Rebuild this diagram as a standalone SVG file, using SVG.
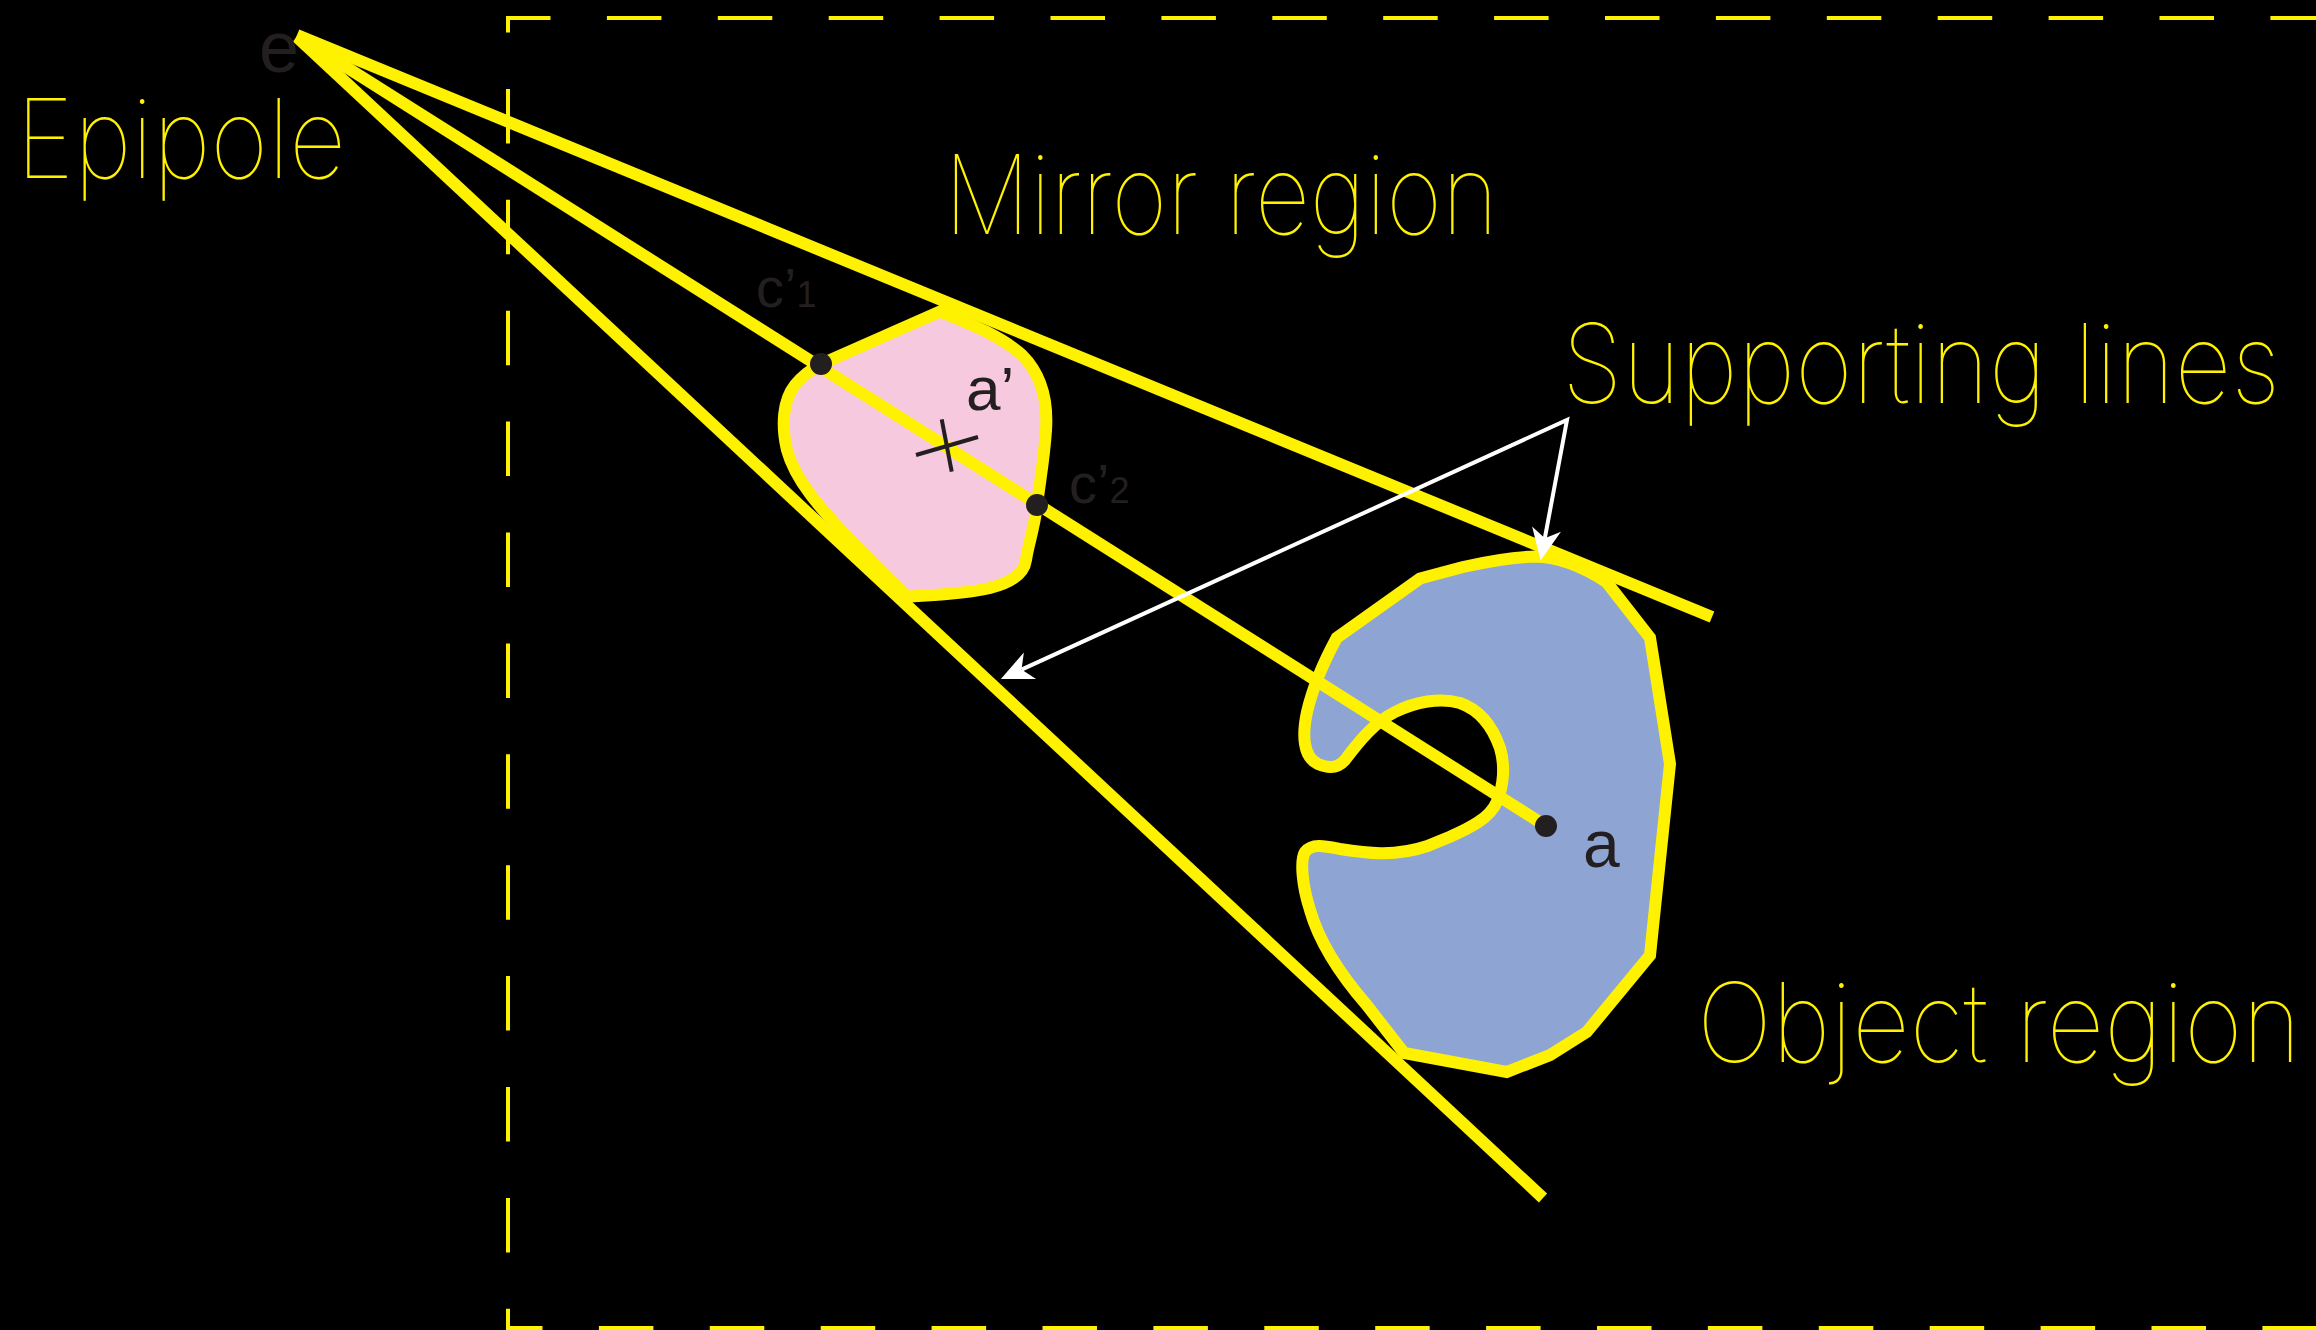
<svg xmlns="http://www.w3.org/2000/svg" width="2316" height="1330" viewBox="0 0 2316 1330">
<defs>
<style>
.big{font-family:Inter,Roboto,"Liberation Sans",sans-serif;font-weight:100;font-size:110px;fill:#fff200}
.dark{font-family:"Liberation Sans",Arial,sans-serif;fill:#231f20}
.ray{stroke:#fff200;stroke-width:12;fill:none;stroke-linecap:butt}
.dash{stroke:#fff200;stroke-width:4;fill:none}
.region{stroke:#fff200;stroke-width:12;stroke-linejoin:miter;stroke-miterlimit:6}
.dot{fill:#231f20}
</style>
<marker id="ah" markerUnits="userSpaceOnUse" markerWidth="40" markerHeight="40" viewBox="-10 -14 30 28" refX="0" refY="0" orient="auto-start-reverse">
<path d="M17,0 L-7,-11 L0,0 L-7,11 Z" fill="#ffffff"/>
</marker>
</defs>
<rect x="0" y="0" width="2316" height="1330" fill="#000000"/>

<g id="frame">
<line class="dash" x1="508" y1="18" x2="2316" y2="18" stroke-dasharray="54.5 56.4" stroke-dashoffset="12"/>
<line class="dash" x1="508" y1="16" x2="508" y2="1330" stroke-dasharray="54.5 56.4" stroke-dashoffset="38"/>
<line class="dash" x1="506" y1="1328" x2="2316" y2="1328" stroke-dasharray="54.5 56.4" stroke-dashoffset="18"/>
</g>

<g id="mirror-region">
<path class="region" fill="#f7c9de" d="M820.7,364.3 L940,311.5 C965,322 1000,335 1022,355 C1042,375 1048,400 1046,430 C1044,460 1040,480 1037,505 C1034,530 1028,545 1026,560 C1024,575 1010,583 990,588 C965,594 935,595 906.7,596.7 L850,540 C820,508 795,480 787,450 C781,425 783,400 795,385 C803,375 812,369 820.7,364.3 Z"/>
</g>

<g id="object-region">
<path class="region" fill="#8ea5d3" d="M1420,578.5 L1463,567 C1490,561 1515,557 1535,556.6 C1560,557 1585,568 1606.7,582.3 L1650,637.8 L1670,764 L1650,955.4 L1586.7,1032 L1550,1055 L1506.7,1072 L1404,1053 L1366.7,1005 C1345,980 1320,945 1310,910 C1302,885 1300,860 1305,852 C1312,843 1325,846 1340,849 C1365,853 1395,857 1426.7,846.3 L1450,836.8 C1470,828 1490,818 1496.7,802 C1504,785 1505,765 1500,748 C1493,728 1480,710 1460,703 C1440,697 1415,702 1395,712 C1375,722 1360,740 1345,760 C1338,768 1330,769 1318,764 C1303,757 1302,735 1307,712 C1312,690 1322,665 1336.7,637.8 Z"/>
</g>

<g id="connectors">
<line class="ray" x1="297" y1="35" x2="1712" y2="617"/>
<line class="ray" x1="297" y1="36" x2="1546" y2="826"/>
<line class="ray" x1="297" y1="37" x2="1543" y2="1198"/>
<path d="M1021.5,669.6 L1567,420 L1544.8,538.3" fill="none" stroke="#ffffff" stroke-width="4" stroke-linejoin="miter" marker-start="url(#ah)" marker-end="url(#ah)"/>
</g>

<g id="epipole">
<text class="dark" x="259" y="72" font-size="72">e</text>
<text class="big" x="16" y="178" textLength="330" lengthAdjust="spacingAndGlyphs">Epipole</text>
</g>

<g id="point-c1">
<circle class="dot" cx="821" cy="364" r="11"/>
<text class="dark" x="756" y="307" font-size="56">c’<tspan font-size="36">1</tspan></text>
</g>

<g id="point-c2">
<circle class="dot" cx="1037" cy="505" r="11"/>
<text class="dark" x="1069" y="503" font-size="56">c’<tspan font-size="36">2</tspan></text>
</g>

<g id="point-a-prime">
<line x1="916" y1="455" x2="978" y2="437" stroke="#231f20" stroke-width="4"/>
<line x1="941.7" y1="419.3" x2="951.7" y2="471.7" stroke="#231f20" stroke-width="4"/>
<text class="dark" x="966" y="410" font-size="62">a’</text>
</g>

<g id="point-a">
<circle class="dot" cx="1546" cy="826" r="11"/>
<text class="dark" x="1583" y="867" font-size="66">a</text>
</g>

<g id="labels">
<text class="big" x="944" y="234" textLength="554" lengthAdjust="spacingAndGlyphs">Mirror region</text>
<text class="big" x="1562" y="403" textLength="718" lengthAdjust="spacingAndGlyphs">Supporting lines</text>
<text class="big" x="1697" y="1062" textLength="604" lengthAdjust="spacingAndGlyphs">Object region</text>
</g>
</svg>
